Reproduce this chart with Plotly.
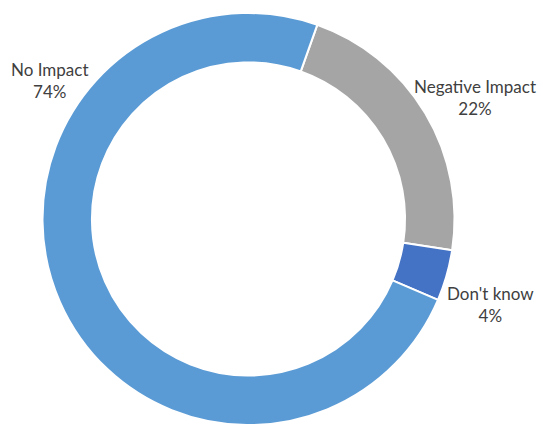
import plotly.graph_objects as go

# Survey responses, in clockwise order starting just right of 12 o'clock
categories = ["Negative Impact", "Don't know", "No Impact"]
shares = [22, 4, 74]
colors = ["#A5A5A5", "#4472C4", "#5B9BD5"]

W, H = 543, 428

fig = go.Figure(
    go.Pie(
        labels=categories,
        values=shares,
        sort=False,
        direction="clockwise",
        rotation=19.5,
        hole=0.76,
        marker=dict(colors=colors, line=dict(color="white", width=2)),
        textinfo="none",
        hoverinfo="label+percent",
        showlegend=False,
        domain=dict(x=[42 / W, 455 / W], y=[1 - 425 / H, 1 - 13 / H]),
    )
)

# Outside labels: category name over its percentage
label_pos = {
    "No Impact": (50, 81),
    "Negative Impact": (475, 98),
    "Don't know": (490, 304),
}
for cat, val in zip(categories, shares):
    px, py = label_pos[cat]
    fig.add_annotation(
        x=px / W,
        y=1 - py / H,
        xref="paper",
        yref="paper",
        text=f"{cat}<br>{val}%",
        showarrow=False,
        align="center",
        xanchor="center",
        yanchor="middle",
        font=dict(family="Lato, sans-serif", size=17, color="#404040"),
    )

fig.update_layout(
    width=W,
    height=H,
    margin=dict(l=0, r=0, t=0, b=0),
    paper_bgcolor="white",
    plot_bgcolor="white",
)

fig.write_html("out.html")
